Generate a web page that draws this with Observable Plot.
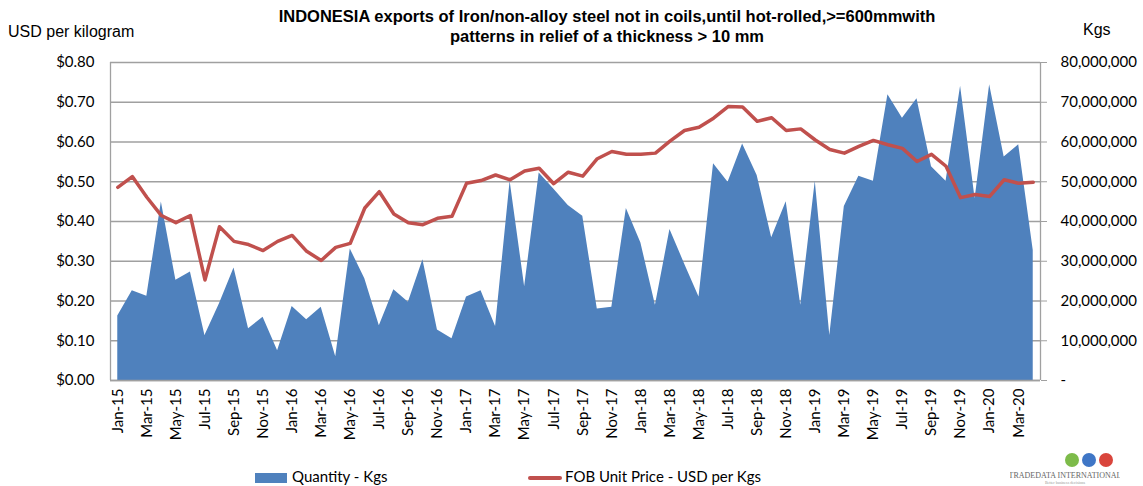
<!DOCTYPE html>
<html><head><meta charset="utf-8">
<script src="https://cdn.jsdelivr.net/npm/d3@7"></script>
<script src="https://cdn.jsdelivr.net/npm/@observablehq/plot@0.6"></script>
<style>
body{margin:0;background:#fff;}
#wrap{position:relative;width:1143px;height:486px;overflow:hidden;font-family:Lato,"Liberation Sans",sans-serif;color:#000;}
#chart{position:absolute;left:0;top:0;}
.abs{position:absolute;white-space:nowrap;}
#title{left:0;width:1214px;top:6px;text-align:center;font:bold 16.5px "Liberation Sans",Arial,sans-serif;line-height:20px;}
#ylab{left:8px;top:23px;font:16px "Liberation Sans",Arial,sans-serif;}
#y2lab{left:1083px;top:21px;font:16px "Liberation Sans",Arial,sans-serif;}
.leg{top:467px;font-size:15px;line-height:18px;}
.sw{display:inline-block;vertical-align:middle;}
</style></head><body>
<div id="wrap">
  <div id="chart"></div>
  <div id="title" class="abs">INDONESIA exports of Iron/non-alloy steel not in coils,until hot-rolled,&gt;=600mmwith<br>patterns in relief of a thickness &gt; 10 mm</div>
  <div id="ylab" class="abs">USD per kilogram</div>
  <div id="y2lab" class="abs">Kgs</div>
  <div class="abs leg" style="left:255px;"><span class="sw" style="width:32px;height:10px;background:#4F81BD;margin-right:5px;"></span>Quantity - Kgs</div>
  <div class="abs leg" style="left:528px;"><span class="sw" style="width:34px;height:4px;border-radius:2px;background:#C0504D;margin-right:3px;"></span>FOB Unit Price - USD per Kgs</div>
  <div class="abs" style="left:1010px;top:450px;width:110px;height:36px;">
    <svg width="110" height="36">
      <circle cx="62" cy="10" r="7" fill="#7dbb4a"/>
      <circle cx="79" cy="10" r="7" fill="#3f76c6"/>
      <circle cx="96" cy="10" r="7" fill="#d9453c"/>
      <text x="55" y="28" text-anchor="middle" font-family="Liberation Serif,serif" font-size="8" fill="#666">TRADEDATA INTERNATIONAL</text>
      <text x="55" y="34" text-anchor="middle" font-family="Liberation Serif,serif" font-size="4" fill="#999">Better business decisions</text>
    </svg>
  </div>
</div>
<script>
const months = ["Jan-15","Feb-15","Mar-15","Apr-15","May-15","Jun-15","Jul-15","Aug-15","Sep-15","Oct-15","Nov-15","Dec-15",
"Jan-16","Feb-16","Mar-16","Apr-16","May-16","Jun-16","Jul-16","Aug-16","Sep-16","Oct-16","Nov-16","Dec-16",
"Jan-17","Feb-17","Mar-17","Apr-17","May-17","Jun-17","Jul-17","Aug-17","Sep-17","Oct-17","Nov-17","Dec-17",
"Jan-18","Feb-18","Mar-18","Apr-18","May-18","Jun-18","Jul-18","Aug-18","Sep-18","Oct-18","Nov-18","Dec-18",
"Jan-19","Feb-19","Mar-19","Apr-19","May-19","Jun-19","Jul-19","Aug-19","Sep-19","Oct-19","Nov-19","Dec-19",
"Jan-20","Feb-20","Mar-20","Apr-20"];
const quantityKgs = [16.2e6,22.6e6,21.2e6,44.9e6,25.2e6,27.3e6,11.3e6,19.3e6,28.3e6,13.0e6,15.9e6,7.5e6,
18.6e6,15.3e6,18.4e6,6.0e6,33.1e6,25.6e6,13.8e6,22.8e6,19.7e6,30.4e6,12.7e6,10.5e6,
21.0e6,22.6e6,13.6e6,50.1e6,23.6e6,52.2e6,48.2e6,44.0e6,41.3e6,18.0e6,18.4e6,43.3e6,
34.6e6,18.9e6,38.0e6,29.4e6,21.0e6,54.5e6,49.9e6,59.5e6,51.6e6,35.9e6,45.0e6,18.9e6,
50.1e6,11.3e6,43.8e6,51.4e6,50.1e6,71.9e6,66.0e6,70.9e6,53.8e6,50.1e6,74.0e6,45.7e6,
74.4e6,56.2e6,59.3e6,32.7e6];
const fobUnitPrice = [0.486,0.513,0.461,0.415,0.397,0.415,0.253,0.387,0.350,0.342,0.327,0.350,
0.365,0.325,0.302,0.335,0.345,0.434,0.475,0.419,0.397,0.392,0.408,0.413,
0.496,0.503,0.517,0.505,0.527,0.534,0.495,0.524,0.514,0.558,0.576,0.569,
0.569,0.572,0.602,0.629,0.637,0.660,0.689,0.688,0.652,0.661,0.629,0.633,
0.605,0.581,0.572,0.589,0.604,0.593,0.584,0.551,0.569,0.539,0.460,0.468,
0.463,0.505,0.496,0.499];
const kgTicks = [0,10e6,20e6,30e6,40e6,50e6,60e6,70e6,80e6];
const priceToKg = 1e8; // $0.80 aligns with 80,000,000 kg

const data = months.map((m,i)=>({i, m, q: quantityKgs[i], p: fobUnitPrice[i]*priceToKg}));
const xTicks = d3.range(0, months.length, 2);

const chart = Plot.plot({
  width:1143, height:486,
  marginTop:62, marginBottom:106, marginLeft:110, marginRight:103,
  style:{fontFamily:"Lato, 'Liberation Sans', sans-serif", fontSize:"15px", color:"#000", background:"transparent"},
  x:{type:"linear", domain:[-0.5, months.length-0.5]},
  y:{domain:[0,80e6]},
  marks:[
    Plot.gridY(kgTicks,{stroke:"#a0a0a0", strokeOpacity:1, strokeWidth:1.3}),
    Plot.areaY(data,{x:"i", y:"q", fill:"#4F81BD"}),
    Plot.line(data,{x:"i", y:"p", stroke:"#C0504D", strokeWidth:3.5}),
    Plot.ruleX([-0.5],{stroke:"#a0a0a0", strokeWidth:1.3}),
    Plot.ruleX([months.length-0.5],{stroke:"#a0a0a0", strokeWidth:1.3}),
    Plot.ruleY([0],{stroke:"#a0a0a0", strokeWidth:1.3}),
    Plot.axisY(kgTicks,{anchor:"left", tickSize:0, tickPadding:16, label:null,
      tickFormat:d=>"$"+(d/priceToKg).toFixed(2)}),
    Plot.axisY(kgTicks,{anchor:"right", tickSize:6, tickPadding:14, label:null, stroke:"#a0a0a0",
      tickFormat:d=>d===0?"-":d3.format(",")(d)}),
    Plot.axisX(xTicks,{anchor:"bottom", tickRotate:-90, tickSize:0, tickPadding:8, label:null,
      tickFormat:i=>months[i]})
  ]
});
document.getElementById("chart").appendChild(chart);
</script>
</body></html>
